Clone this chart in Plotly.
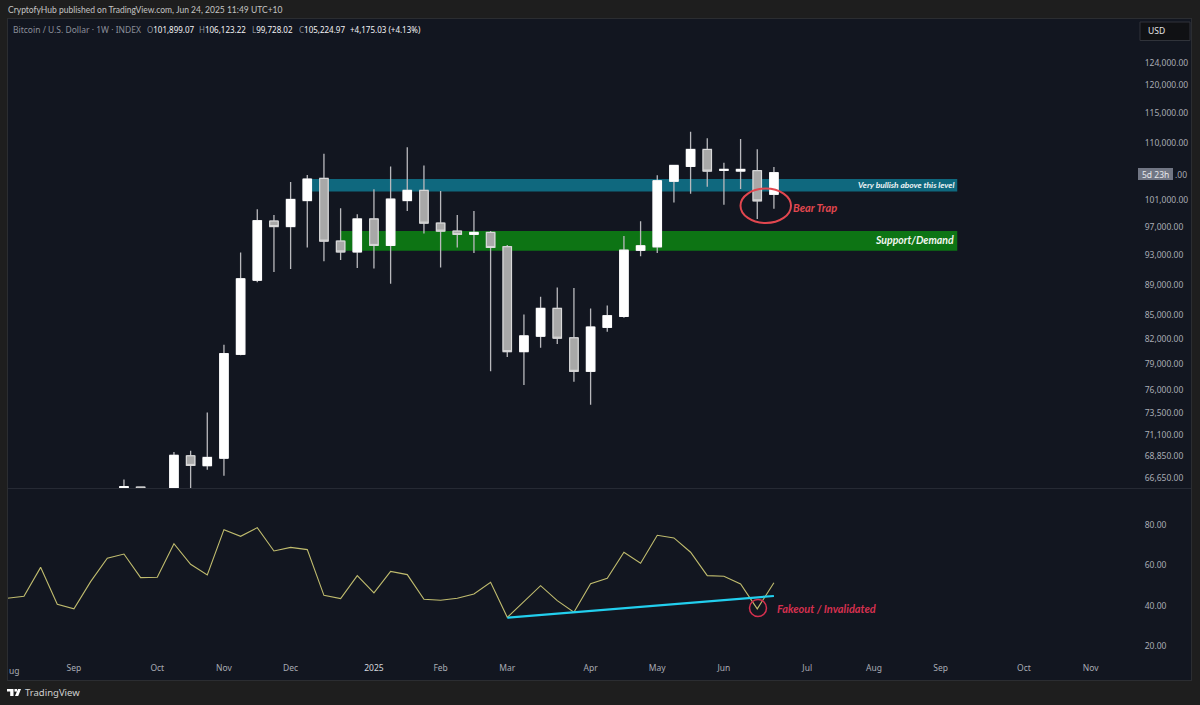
import plotly.graph_objects as go

# weekly candles, Monday dates
weeks = ["2024-09-23", "2024-09-30", "2024-10-07", "2024-10-14", "2024-10-21", "2024-10-28",
         "2024-11-04", "2024-11-11", "2024-11-18", "2024-11-25", "2024-12-02", "2024-12-09",
         "2024-12-16", "2024-12-23", "2024-12-30", "2025-01-06", "2025-01-13", "2025-01-20",
         "2025-01-27", "2025-02-03", "2025-02-10", "2025-02-17", "2025-02-24", "2025-03-03",
         "2025-03-10", "2025-03-17", "2025-03-24", "2025-03-31", "2025-04-07", "2025-04-14",
         "2025-04-21", "2025-04-28", "2025-05-05", "2025-05-12", "2025-05-19", "2025-05-26",
         "2025-06-02", "2025-06-09", "2025-06-16", "2025-06-23"]
opens = [63300, 65750, 62800, 62850, 68900, 67890,
         68660, 80200, 89600, 97890, 97100, 100950,
         104340, 95000, 93470, 98190, 94390, 100950,
         102490, 97590, 96430, 95960, 96240, 94200,
         80520, 82400, 85900, 82200, 78190, 83500,
         84870, 93710, 94200, 103900, 106230, 108950,
         105600, 105500, 105550, 101899.07]
highs = [66500, 65800, 64500, 69300, 69430, 73500,
         81360, 93390, 99620, 98780, 103800, 104890,
         108280, 99770, 98880, 102650, 106230, 109330,
         106380, 102380, 98780, 99370, 96430, 94430,
         85120, 87400, 88640, 88560, 85900, 86270,
         95720, 97850, 104850, 106500, 111880, 110780,
         106810, 110670, 109000, 106123.22]
lows = [62700, 59800, 60000, 62400, 65260, 67480,
        66870, 80080, 89320, 90700, 91100, 94100,
        92170, 92350, 91250, 91170, 89140, 99370,
        96100, 91320, 94100, 93330, 78190, 79880,
        76610, 81000, 81440, 76960, 74370, 82940,
        84700, 92860, 93330, 100660, 101970, 103040,
        100310, 102690, 98190, 99728.02]
closes = [65800, 62850, 62820, 68950, 67920, 68725,
          80280, 89785, 97935, 97100, 101100, 104230,
          95000, 93470, 98190, 94390, 101150, 102490,
          97590, 96430, 95960, 96240, 94100, 80520,
          82440, 85900, 82160, 78190, 83540, 84960,
          93710, 94330, 103970, 106380, 108950, 105500,
          105750, 105750, 100900, 105224.97]

rsi_weeks = ["2024-08-05", "2024-08-12", "2024-08-19", "2024-08-26", "2024-09-02", "2024-09-09",
             "2024-09-16", "2024-09-23", "2024-09-30", "2024-10-07", "2024-10-14", "2024-10-21",
             "2024-10-28", "2024-11-04", "2024-11-11", "2024-11-18", "2024-11-25", "2024-12-02",
             "2024-12-09", "2024-12-16", "2024-12-23", "2024-12-30", "2025-01-06", "2025-01-13",
             "2025-01-20", "2025-01-27", "2025-02-03", "2025-02-10", "2025-02-17", "2025-02-24",
             "2025-03-03", "2025-03-10", "2025-03-17", "2025-03-24", "2025-03-31", "2025-04-07",
             "2025-04-14", "2025-04-21", "2025-04-28", "2025-05-05", "2025-05-12", "2025-05-19",
             "2025-05-26", "2025-06-02", "2025-06-09", "2025-06-16", "2025-06-23"]
rsi = [43.7, 44.7, 59.0, 40.7, 38.4, 51.9, 63.5, 65.6, 53.9, 54.1, 70.7, 60.5,
       55.2, 77.7, 74.4, 78.7, 67.1, 68.9, 67.8, 45.1, 43.5, 54.9, 46.3, 57.0,
       55.4, 43.2, 42.7, 43.7, 45.8, 51.6, 34.2, 42.0, 49.9, 42.5, 36.7, 50.9,
       53.6, 66.5, 61.0, 74.9, 73.6, 66.5, 54.9, 54.6, 50.8, 38.4, 51.4]

trend_weeks = ["2025-03-03", "2025-06-23"]
trend_vals = [34.0, 44.8]

teal_zone = dict(start="2024-12-09", end="2025-09-08", low=102330, high=104230)
green_zone = dict(start="2024-12-23", end="2025-09-08", low=93650, high=96430)

# 105,000 sits behind the countdown tag, only its ".00" shows (added as a text below)
price_ticks = [124000, 120000, 115000, 110000, 101000, 97000, 93000, 89000,
               85000, 82000, 79000, 76000, 73500, 71100, 68850, 66650]
rsi_ticks = [80, 60, 40, 20]
# the first Aug is cut by the panel edge, it gets added as "ug" below
month_ticks = ["2024-09-02", "2024-10-07", "2024-11-04", "2024-12-02", "2025-01-06",
               "2025-02-03", "2025-03-03", "2025-04-07", "2025-05-05", "2025-06-02", "2025-07-07",
               "2025-08-04", "2025-09-01", "2025-10-06", "2025-11-03"]
month_labels = ["Sep", "Oct", "Nov", "Dec", "<span style='color:#d6d8de'>2025</span>",
                "Feb", "Mar", "Apr", "May", "Jun", "Jul", "Aug", "Sep", "Oct", "Nov"]
ohlc_labels = ["O", "H", "L", "C"]
ohlc_values = ["101,899.07", "106,123.22", "99,728.02", "105,224.97"]

PANEL = "#121620"
CHROME = "#1e1e1e"
FONT = "Noto Sans"


def px(x):
    return x / 1200


def py(y):
    return 1 - y / 705


def text(fig, x, y, s, size=9, color="#b2b5be", anchor="left", family=FONT):
    fig.add_annotation(x=px(x), y=py(y), xref="paper", yref="paper", text=s, showarrow=False,
                       xanchor=anchor, yanchor="middle", borderpad=0,
                       font=dict(size=size, color=color, family=family))


def rect(fig, x0, y0, x1, y1, fill, line=None):
    fig.add_shape(type="rect", xref="paper", yref="paper", x0=px(x0), x1=px(x1), y0=py(y0), y1=py(y1),
                  fillcolor=fill, line=dict(color=line or fill, width=1 if line else 0))


def poly(fig, pts, fill):
    path = "M" + " L".join(f"{px(a):.5f},{py(b):.5f}" for a, b in pts) + " Z"
    fig.add_shape(type="path", xref="paper", yref="paper", path=path, fillcolor=fill, line=dict(width=0))


fig = go.Figure()

# wicks first, bodies on top so the wicks can stay a bit duller than the white bodies
fig.add_trace(go.Candlestick(
    x=weeks, open=opens, high=highs, low=lows, close=closes,
    increasing=dict(line=dict(color="#b9b9bd", width=1.3), fillcolor="#ffffff"),
    decreasing=dict(line=dict(color="#b9b9bd", width=1.3), fillcolor="#a8a8a8"),
    showlegend=False, hoverinfo="skip",
))
fig.add_trace(go.Candlestick(
    x=weeks, open=opens, close=closes,
    high=[max(a, b) for a, b in zip(opens, closes)],
    low=[min(a, b) for a, b in zip(opens, closes)],
    increasing=dict(line=dict(color="#ffffff", width=1), fillcolor="#ffffff"),
    decreasing=dict(line=dict(color="#dcdcdc", width=1), fillcolor="#a8a8a8"),
    showlegend=False, hoverinfo="skip",
))
fig.add_trace(go.Scatter(x=rsi_weeks, y=rsi, mode="lines", xaxis="x2", yaxis="y2",
                         line=dict(color="#c0bc6e", width=1.1), showlegend=False, hoverinfo="skip"))
fig.add_trace(go.Scatter(x=trend_weeks, y=trend_vals, mode="lines", xaxis="x2", yaxis="y2",
                         line=dict(color="#22cfee", width=2.2), showlegend=False, hoverinfo="skip"))

fig.update_layout(
    width=1200, height=705, margin=dict(l=0, r=0, t=0, b=0),
    paper_bgcolor=PANEL, plot_bgcolor=PANEL, boxgap=0.28,
    font=dict(family=FONT, size=9, color="#b2b5be"),
    xaxis=dict(domain=[0, px(1137)], range=["2024-08-01 22:30", "2025-11-22 12:00"], anchor="y",
               showgrid=False, zeroline=False, showticklabels=False, ticks="",
               rangeslider=dict(visible=False)),
    xaxis2=dict(domain=[0, px(1137)], matches="x", anchor="y2", showgrid=False, zeroline=False,
                tickmode="array", tickvals=month_ticks, ticktext=month_labels, ticks="",
                tickfont=dict(size=8.5, color="#a9acb5")),
    yaxis=dict(domain=[py(488), py(23)], type="log", side="right", anchor="x", showgrid=False,
               range=[4.81731, 5.11942], zeroline=False,
               tickmode="array", tickvals=price_ticks, ticktext=[f"{v:,.2f}" for v in price_ticks],
               ticks="outside", ticklen=5, tickcolor="rgba(0,0,0,0)",
               tickfont=dict(size=8.5, color="#a9acb5")),
    yaxis2=dict(domain=[py(661), py(489)], side="right", anchor="x2", showgrid=False,
                range=[12.56, 97.85], zeroline=False,
                tickmode="array", tickvals=rsi_ticks, ticktext=[f"{v:.2f}" for v in rsi_ticks],
                ticks="outside", ticklen=5, tickcolor="rgba(0,0,0,0)",
                tickfont=dict(size=8.5, color="#a9acb5")),
)

# zones sit under the candles
for zone, colour in ((teal_zone, "#0f687e"), (green_zone, "#0d7414")):
    fig.add_shape(type="rect", xref="x", yref="y", layer="below", x0=zone["start"], x1=zone["end"],
                  y0=zone["low"], y1=zone["high"], fillcolor=colour, line=dict(width=0))

# window chrome around the panel
rect(fig, 0, 0, 1200, 18, CHROME)
rect(fig, 0, 0, 7, 705, CHROME)
rect(fig, 1192, 0, 1200, 705, CHROME)
rect(fig, 0, 680, 1200, 705, CHROME)
rect(fig, 7, 18, 1192, 19, "#2b2d31")
rect(fig, 7, 680, 1192, 681, "#2b2d31")
rect(fig, 7, 18, 8, 680, "#2b2d31")
rect(fig, 1191, 18, 1192, 680, "#2b2d31")
rect(fig, 8, 488, 1191, 489, "#262a34")

# USD box and countdown tag
rect(fig, 1140, 22, 1190, 40.5, "#101114", "#30333a")
rect(fig, 1138, 168, 1173, 180, "#717684")

# drawings
fig.add_shape(type="circle", xref="paper", yref="paper", x0=px(740.5), x1=px(791), y0=py(188.5), y1=py(223),
              line=dict(color="#e2474f", width=2))
fig.add_shape(type="circle", xref="paper", yref="paper", x0=px(749.5), x1=px(766.5), y0=py(599.5), y1=py(616.5),
              line=dict(color="#d5304f", width=1.5))

# TradingView mark
poly(fig, [(7, 689), (13.5, 689), (13.5, 696), (10.2, 696), (10.2, 691.6), (7, 691.6)], "#ffffff")
poly(fig, [(14.5, 689), (17, 689), (17, 691.6), (14.5, 691.6)], "#ffffff")
poly(fig, [(18, 689), (21, 689), (18.2, 696), (15, 696)], "#ffffff")

BRIGHT = "#f2f3f5"
DIM = "#8b8f9a"
text(fig, 7, 10, "CryptofyHub published on TradingView.com, Jun 24, 2025 11:49 UTC+10", size=8.5, color="#c4c4c4", family="Lato")
text(fig, 12, 29.5, "Bitcoin / U.S. Dollar · 1W · INDEX", size=8.5, color=DIM)
for x, label, value in zip([145.5, 198, 250.5, 297.5], ohlc_labels, ohlc_values):
    text(fig, x, 29.5, f"<span style='color:{DIM}'>{label}</span>{value}", size=8, color=BRIGHT)
text(fig, 349, 29.5, "+4,175.03 (+4.13%)", size=8, color=BRIGHT)
text(fig, 1147, 31, "USD", size=8.5, color="#e4e4e4")
text(fig, 1155.5, 174, "5d 23h", size=8.5, color="#e8e9ec", anchor="center")
text(fig, 1174, 174, ".00", size=8.5, color="#a9acb5")
text(fig, 7.5, 670, "ug", size=8.5, color="#a9acb5")
text(fig, 24, 692.5, "TradingView", size=9.5, color="#d0d0d0")
text(fig, 955, 185, "<b><i>Very bullish above this level</i></b>", size=8.4, color="#f0f4f6", anchor="right", family="Lato")
text(fig, 955, 240, "<b><i>Support/Demand</i></b>", size=10.5, color="#f2f6f0", anchor="right", family="Lato")
text(fig, 792, 207.5, "<b><i>Bear Trap</i></b>", size=11, color="#e2474f", family="Lato")
text(fig, 776, 608.5, "<b><i>Fakeout / Invalidated</i></b>", size=11, color="#d5304f", family="Lato")

fig.write_html("out.html", post_script="document.body.style.margin='0';", config={"displayModeBar": False})
